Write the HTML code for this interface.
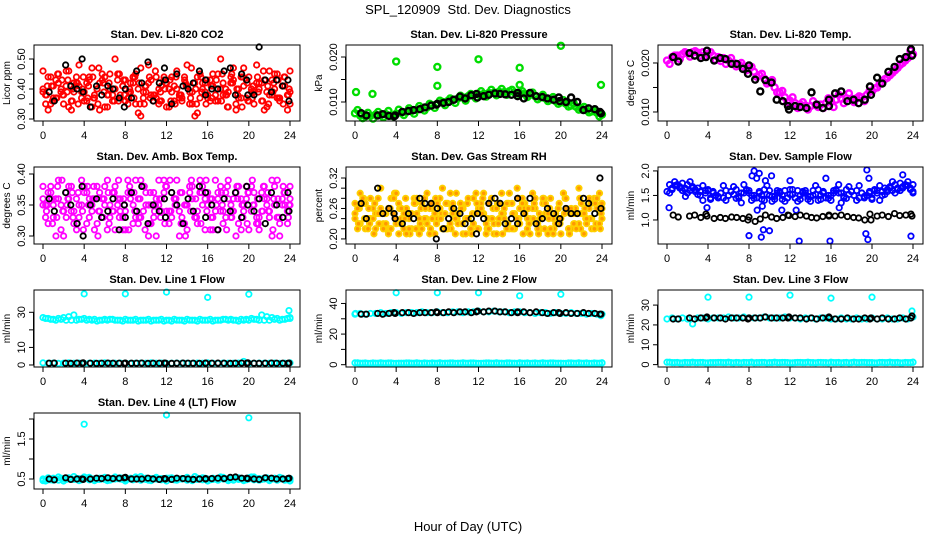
<!DOCTYPE html>
<html><head><meta charset="utf-8"><style>
body{margin:0;background:#fff;}
svg{display:block;font-family:"Liberation Sans",Arial,sans-serif;}
</style></head><body>
<svg id="chart" width="936" height="540" viewBox="0 0 936 540">
<text x="468" y="14" text-anchor="middle" font-size="13">SPL_120909&#160; Std. Dev. Diagnostics</text>
<text x="468" y="531" text-anchor="middle" font-size="13">Hour of Day (UTC)</text>
</svg>
<script>
const blackHours=[0.6,1.1,2.2,2.7,3.3,3.8,3.9,4.6,5.2,5.7,6.3,6.8,7.4,7.9,8.0,8.6,9.1,9.6,10.2,10.7,11.3,11.8,11.9,12.5,13.0,13.6,14.1,14.6,15.2,15.8,15.8,16.4,17.0,17.6,18.2,18.7,19.3,19.8,19.9,20.5,21.0,21.6,22.2,22.7,23.3,23.8,23.9];
const xTicks=[0,4,8,12,16,20,24];

const co2A=[0.40,0.44,0.37,0.42,0.35,0.46,0.39,0.41,0.36,0.44,0.38,0.42,0.34,0.45,0.40,0.37,0.43,0.39,0.35,0.47,0.41,0.38,0.44,0.36,0.42,0.39,0.46,0.37,0.41,0.35,0.44,0.40,0.38,0.45,0.36,0.42,0.39,0.47,0.37,0.41,0.44,0.35,0.40,0.43,0.38,0.45,0.36,0.41,0.39];
const co2B=[0.38,0.35,0.43,0.39,0.41,0.36,0.44,0.37,0.42,0.34,0.40,0.45,0.38,0.36,0.43,0.41,0.35,0.44,0.40,0.37,0.42,0.38,0.35,0.43,0.40,0.36,0.38,0.44,0.35,0.42,0.37,0.39,0.43,0.36,0.40,0.38,0.42,0.35,0.44,0.37,0.40,0.42,0.36,0.39,0.43,0.37,0.41,0.38];
const co2C=[0.46,0.33,0.41,0.45,0.38,0.34,0.42,0.48,0.39,0.43,0.37,0.33,0.44,0.40,0.50,0.38,0.36,0.42,0.45,0.31,0.39,0.43,0.37,0.41,0.34,0.44,0.40,0.36,0.48,0.39,0.32,0.42,0.37,0.41,0.45,0.38,0.34,0.43,0.40,0.47,0.36,0.39,0.42,0.33,0.46,0.40,0.37,0.44,0.35];
const co2Black=[0.39,0.36,0.48,0.41,0.40,0.50,0.39,0.34,0.41,0.38,0.41,0.40,0.37,0.34,0.40,0.37,0.46,0.42,0.49,0.36,0.42,0.47,0.43,0.35,0.45,0.41,0.40,0.42,0.46,0.43,0.38,0.40,0.40,0.46,0.47,0.38,0.45,0.43,0.38,0.38,0.54,0.43,0.39,0.43,0.41,0.43,0.36];

const presA=[0.0075,0.0070,0.0068,0.0069,0.0072,0.0071,0.0073,0.0070,0.0074,0.0076,0.0078,0.0080,0.0083,0.0086,0.0088,0.0093,0.0096,0.0100,0.0102,0.0105,0.0108,0.0110,0.0113,0.0115,0.0117,0.0118,0.0120,0.0121,0.0123,0.0122,0.0124,0.0121,0.0120,0.0118,0.0116,0.0113,0.0110,0.0108,0.0105,0.0102,0.0099,0.0096,0.0092,0.0089,0.0086,0.0082,0.0079,0.0076,0.0072];
const presB=[0.0082,0.0064,0.0076,0.0063,0.0078,0.0066,0.0080,0.0068,0.0083,0.0071,0.0086,0.0074,0.0091,0.0081,0.0096,0.0087,0.0103,0.0093,0.0108,0.0098,0.0114,0.0103,0.0118,0.0108,0.0124,0.0112,0.0127,0.0115,0.0129,0.0116,0.0127,0.0114,0.0124,0.0111,0.0121,0.0106,0.0116,0.0102,0.0111,0.0096,0.0104,0.0090,0.0097,0.0083,0.0089,0.0077,0.0081,0.0068];
const presOutHours=[0.1,1.7,4.0,8.0,8.0,12.0,16.0,16.0,20.0,23.9];
const presOutVals=[0.0122,0.0118,0.0190,0.0178,0.0136,0.0195,0.0176,0.0138,0.0225,0.0138];
const presBlack=[0.0075,0.0070,0.0070,0.0073,0.0069,0.0068,0.0070,0.0078,0.0080,0.0082,0.0084,0.0088,0.0092,0.0094,0.0096,0.0098,0.0100,0.0105,0.0112,0.0108,0.0115,0.0118,0.0110,0.0113,0.0116,0.0119,0.0118,0.0117,0.0116,0.0113,0.0120,0.0108,0.0120,0.0113,0.0111,0.0108,0.0105,0.0110,0.0102,0.0100,0.0110,0.0100,0.0082,0.0086,0.0084,0.0078,0.0075];

const tempA=[0.0205,0.0212,0.0215,0.0218,0.0220,0.0222,0.0221,0.0222,0.0218,0.0215,0.0212,0.0210,0.0205,0.0200,0.0197,0.0193,0.0188,0.0182,0.0175,0.0168,0.0160,0.0150,0.0140,0.0130,0.0123,0.0118,0.0115,0.0113,0.0112,0.0114,0.0115,0.0118,0.0122,0.0125,0.0127,0.0128,0.0127,0.0128,0.0130,0.0135,0.0142,0.0150,0.0160,0.0170,0.0180,0.0190,0.0200,0.0210,0.0218];
const tempB=[0.0198,0.0215,0.0208,0.0222,0.0213,0.0224,0.0215,0.0214,0.0222,0.0206,0.0204,0.0198,0.0210,0.0193,0.0200,0.0185,0.0192,0.0172,0.0178,0.0158,0.0165,0.0140,0.0143,0.0120,0.0130,0.0108,0.0120,0.0105,0.0122,0.0110,0.0108,0.0128,0.0110,0.0135,0.0118,0.0138,0.0120,0.0132,0.0122,0.0142,0.0148,0.0158,0.0167,0.0175,0.0185,0.0196,0.0205,0.0225];
const tempBlack=[0.0212,0.0203,0.0220,0.0215,0.0210,0.0212,0.0225,0.0205,0.0210,0.0208,0.0198,0.0198,0.0188,0.0178,0.0195,0.0166,0.0142,0.0165,0.0160,0.0125,0.0122,0.0112,0.0105,0.0112,0.0110,0.0108,0.0140,0.0115,0.0108,0.0112,0.0125,0.0138,0.0142,0.0122,0.0125,0.0118,0.0125,0.0152,0.0135,0.0170,0.0158,0.0182,0.0192,0.0208,0.0212,0.0228,0.0215];

const ambA=[0.35,0.37,0.33,0.36,0.34,0.38,0.32,0.35,0.37,0.33,0.36,0.34,0.38,0.35,0.31,0.36,0.34,0.37,0.33,0.39,0.35,0.32,0.36,0.34,0.38,0.33,0.35,0.37,0.31,0.36,0.34,0.38,0.35,0.33,0.37,0.32,0.36,0.34,0.38,0.35,0.31,0.37,0.33,0.36,0.34,0.38,0.32,0.35,0.36];
const ambB=[0.33,0.38,0.36,0.31,0.37,0.34,0.36,0.39,0.32,0.35,0.38,0.33,0.31,0.37,0.35,0.33,0.39,0.32,0.36,0.34,0.30,0.37,0.35,0.39,0.32,0.36,0.34,0.32,0.38,0.33,0.37,0.31,0.36,0.39,0.34,0.37,0.33,0.30,0.36,0.38,0.34,0.32,0.37,0.35,0.39,0.33,0.36,0.34];
const ambC=[0.38,0.32,0.35,0.39,0.30,0.36,0.34,0.33,0.38,0.36,0.31,0.37,0.35,0.33,0.38,0.34,0.31,0.36,0.39,0.33,0.37,0.35,0.30,0.36,0.34,0.37,0.39,0.33,0.35,0.38,0.32,0.35,0.37,0.31,0.36,0.34,0.39,0.36,0.32,0.34,0.37,0.35,0.31,0.38,0.33,0.35,0.30,0.37,0.35];
const ambBlack=[0.36,0.34,0.37,0.35,0.32,0.38,0.30,0.35,0.36,0.33,0.34,0.36,0.31,0.35,0.33,0.37,0.34,0.38,0.32,0.35,0.34,0.36,0.33,0.37,0.35,0.32,0.36,0.34,0.38,0.33,0.37,0.35,0.31,0.36,0.34,0.37,0.33,0.38,0.35,0.34,0.36,0.32,0.37,0.35,0.33,0.37,0.34];

const rhA=[0.25,0.23,0.27,0.24,0.22,0.26,0.25,0.28,0.23,0.24,0.26,0.22,0.25,0.27,0.23,0.26,0.24,0.22,0.27,0.25,0.23,0.26,0.24,0.28,0.22,0.25,0.27,0.23,0.24,0.26,0.22,0.25,0.23,0.27,0.24,0.26,0.22,0.25,0.28,0.23,0.24,0.26,0.22,0.25,0.27,0.23,0.24,0.26,0.24];
const rhB=[0.22,0.27,0.24,0.26,0.28,0.23,0.21,0.25,0.27,0.22,0.24,0.28,0.21,0.24,0.26,0.21,0.28,0.25,0.23,0.21,0.27,0.24,0.22,0.25,0.27,0.21,0.24,0.26,0.29,0.22,0.27,0.24,0.28,0.22,0.26,0.23,0.27,0.21,0.24,0.26,0.29,0.22,0.25,0.23,0.21,0.26,0.28,0.23];
const rhC=[0.27,0.29,0.22,0.28,0.25,0.30,0.23,0.22,0.29,0.26,0.21,0.25,0.28,0.22,0.29,0.24,0.27,0.30,0.22,0.27,0.25,0.21,0.28,0.23,0.26,0.29,0.22,0.21,0.27,0.24,0.29,0.22,0.26,0.25,0.21,0.28,0.24,0.27,0.22,0.25,0.21,0.28,0.26,0.22,0.25,0.24,0.22,0.28,0.26];
const rhBlack=[0.27,0.24,0.30,0.25,0.26,0.25,0.24,0.23,0.25,0.24,0.28,0.27,0.27,0.20,0.26,0.22,0.24,0.26,0.25,0.23,0.24,0.21,0.25,0.24,0.27,0.28,0.27,0.23,0.24,0.23,0.28,0.25,0.28,0.23,0.24,0.26,0.25,0.23,0.24,0.26,0.25,0.25,0.28,0.27,0.25,0.32,0.26];

const flowA=[1.58,1.62,1.70,1.75,1.72,1.68,1.65,1.70,1.60,1.55,1.48,1.45,1.50,1.52,1.48,1.55,1.60,1.50,1.55,1.62,1.50,1.48,1.55,1.60,1.52,1.45,1.50,1.55,1.48,1.52,1.50,1.45,1.50,1.60,1.55,1.62,1.58,1.60,1.55,1.50,1.45,1.55,1.58,1.62,1.60,1.65,1.68,1.70,1.72];
const flowB=[1.55,1.78,1.65,1.62,1.78,1.58,1.50,1.60,1.42,1.50,1.55,1.40,1.58,1.44,1.35,1.62,1.40,1.85,1.42,1.70,1.38,1.60,1.42,1.45,1.62,1.38,1.58,1.42,1.60,1.40,1.58,1.44,1.55,1.72,1.45,1.68,1.50,1.70,1.45,1.58,1.62,1.40,1.52,1.65,1.55,1.60,1.72,1.65];
const flowOutHours=[0.2,1.8,3.9,8.0,8.3,8.5,9.0,9.2,9.4,9.6,10.0,10.2,8.8,9.3,11.2,12.0,12.9,15.9,16.8,19.4,19.5,19.7,19.6,23.8,23.0,12.6];
const flowOutVals=[1.25,1.48,1.25,0.68,1.90,2.00,1.95,0.65,0.80,1.80,0.78,1.90,1.20,1.28,1.20,1.80,0.57,0.57,1.25,0.72,2.02,1.85,0.60,0.67,1.92,1.20];
const flowBlack=[1.10,1.06,1.08,1.10,1.05,1.12,1.08,1.03,1.05,1.03,1.06,1.05,1.03,1.00,1.06,0.97,1.02,1.10,1.06,1.03,1.05,1.10,1.09,1.07,1.10,1.08,1.05,1.04,1.07,1.10,1.08,1.08,1.10,1.07,1.05,1.04,1.00,1.12,1.00,1.08,1.10,1.07,1.13,1.09,1.10,1.12,1.08];

const line1Cyan=[27,26.5,26,26.5,27,27.5,28.5,26,26.5,26,26,25.5,26,26,25.5,25.5,26,25.5,26,25.5,25.5,25,25.5,26,25.5,25,25.5,25.5,26,25.5,25,25.5,25.5,25,25.5,26,25.5,25.5,25,25.5,25.5,26,25.5,25.5,25.5,26,25.5,26,26.5];
const line1CyanLow=[1.2,1.0,1.1,0.9,1.0,1.2,1.0,1.1,0.9,1.0,1.1,1.0,1.2,0.9,1.0,1.1,1.0,0.9,1.0,1.1,1.0,1.2,1.0,1.1,0.9,1.0,1.1,1.0,1.0,0.9,1.1,1.0,1.2,1.0,0.9,1.1,1.0,1.0,1.1,2.0,1.0,0.9,1.1,1.0,1.0,1.1,0.9,1.0,1.2];
const line1OutHours=[4,8,12,16,20,23.9];
const line1OutVals=[40.5,40.5,41.5,38.5,40.3,31];
const line1Black=[1.0,1.1,1.0,0.9,1.1,1.0,1.2,1.0,0.9,1.0,1.1,1.0,1.0,0.9,1.1,1.0,1.0,1.1,0.9,1.0,1.0,1.1,1.0,0.9,1.0,1.1,1.0,1.0,0.9,1.1,1.0,1.0,1.1,1.0,0.9,1.0,1.1,1.0,1.2,1.0,0.9,1.0,1.1,1.0,1.0,0.9,1.1];

const line2Cyan=[33,33.5,33,33.5,33.5,34,33.5,34,34,33.5,34,34,34,34.5,34,34,34.5,34,34,34.5,34.5,34,34.5,34.5,35,34.5,34.5,35,34.5,34.5,34,34.5,34.5,34,34,33.5,34,34,33.5,34,33.5,33.5,34,33.5,33.5,33,33.5,33,33];
const line2CyanLow=[1.2,1.0,1.1,0.9,1.0,1.2,1.0,1.1,0.9,1.0,1.1,1.0,1.2,0.9,1.0,1.1,1.0,0.9,1.0,1.1,1.0,1.2,1.0,1.1,0.9,1.0,1.1,1.0,1.0,0.9,1.1,1.0,1.2,1.0,0.9,1.1,1.0,1.0,1.1,1.0,1.0,0.9,1.1,1.0,1.0,1.1,0.9,1.0,1.2];
const line2OutHours=[0.05,4,8,12,16,20,23.9];
const line2OutVals=[33.5,47,47,47,45,46,32];
const line2Black=[33,33,33.5,33,33.5,34,33.5,34,34,33.5,34,34,34,34.5,34,34,34.5,34,34.5,34.5,34,34.5,35,34.5,35,35,34.5,34.5,34,34.5,34,34.5,34,34.5,34,33.5,34,34,33.5,34,33.5,33.5,34,33.5,33.5,33,33];

const line3Cyan=[23,23.5,23,23.5,23,20.5,23.5,23.5,23,23.5,23.5,23.5,24,23.5,23.5,24,23.5,23.5,23.5,24,23.5,23.5,23.5,24,23.5,23.5,23,23.5,23.5,23,23.5,23.5,23,23,23.5,23,23,23.5,23,23,23.5,23,23,23.5,23,23,23.5,23,24];
const line3CyanLow=[1.2,1.0,1.1,0.9,1.0,1.2,1.0,1.1,0.9,1.0,1.1,1.0,1.2,0.9,1.0,1.1,1.0,0.9,1.0,1.1,1.0,1.2,1.0,1.1,0.9,1.0,1.1,1.0,1.0,0.9,1.1,1.0,1.2,1.0,0.9,1.1,1.0,1.0,1.1,1.0,1.0,0.9,1.1,1.0,1.0,1.1,0.9,1.0,1.2];
const line3OutHours=[4,8,12,16,20,23.9];
const line3OutVals=[34,34,35,33.5,34,27];
const line3Black=[23,23,23.5,23,23.5,23.5,24,23.5,23.5,23,23.5,23.5,23.5,23,23.5,23.5,23.5,24,23.5,23.5,23.5,23.5,24,23.5,23.5,23,23.5,23,23.5,23.5,24,23,23,23.5,23,23,23.5,23,23.5,23,23.5,23,23,23.5,23,23.5,24.5];

const line4Cyan=[0.50,0.48,0.52,0.47,0.50,0.53,0.49,0.51,0.55,0.48,0.50,0.52,0.49,0.51,0.55,0.50,0.48,0.52,0.50,0.56,0.49,0.51,0.50,0.48,0.52,0.50,0.49,0.51,0.47,0.50,0.52,0.48,0.50,0.49,0.51,0.50,0.46,0.52,0.49,0.50,0.53,0.48,0.51,0.50,0.49,0.52,0.50,0.48,0.45];
const line4CyanB=[0.46,0.53,0.47,0.55,0.45,0.51,0.56,0.46,0.50,0.54,0.46,0.49,0.54,0.47,0.50,0.53,0.45,0.50,0.55,0.47,0.52,0.46,0.54,0.51,0.45,0.53,0.47,0.50,0.54,0.46,0.49,0.53,0.45,0.52,0.47,0.54,0.50,0.47,0.53,0.46,0.50,0.55,0.47,0.52,0.46,0.50,0.54,0.47,0.51];
const line4OutHours=[4,12,20];
const line4OutVals=[1.87,2.10,2.03];
const line4Black=[0.50,0.48,0.53,0.49,0.50,0.50,0.49,0.50,0.52,0.51,0.53,0.51,0.52,0.53,0.54,0.50,0.50,0.50,0.52,0.50,0.49,0.51,0.50,0.49,0.52,0.51,0.50,0.49,0.50,0.51,0.50,0.51,0.52,0.51,0.54,0.55,0.52,0.52,0.51,0.50,0.49,0.53,0.52,0.50,0.50,0.51,0.52];

const NS="http://www.w3.org/2000/svg";
const svg=document.getElementById('chart');
function el(tag,attrs,parent){const e=document.createElementNS(NS,tag);for(const k in attrs)e.setAttribute(k,attrs[k]);(parent||svg).appendChild(e);return e;}

// dense: also plot each noisy series a second time in reversed hour order (offset) to build the cloud
const panels=[
 {name:'co2',title:'Stan. Dev. Li-820 CO2',ylab:'Licor ppm',box:[34,300,45,121],dom:[0.2933,0.5467],ticks:[0.30,0.35,0.40,0.45,0.50],labels:[0.30,0.40,0.50],dec:2,dense:true,
  series:[{vals:co2A,c:'#ff0000'},{vals:co2B,c:'#ff0000'},{vals:co2C,c:'#ff0000'}],black:co2Black},
 {name:'pressure',title:'Stan. Dev. Li-820 Pressure',ylab:'kPa',box:[346,612,45,121],dom:[0.00578,0.02267],ticks:[0.010,0.015,0.020],labels:[0.010,0.020],dec:3,r:3,sw:2.4,
  series:[{vals:presA,c:'#00dd00'},{vals:presB,c:'#00dd00'},{h:presOutHours,vals:presOutVals,c:'#00dd00'}],black:presBlack},
 {name:'temp',title:'Stan. Dev. Li-820 Temp.',ylab:'degrees C',box:[658,923,45,121],dom:[0.00816,0.02367],ticks:[0.010,0.015,0.020],labels:[0.010,0.020],dec:3,r:3,sw:2.4,
  series:[{vals:tempA,c:'#ff00ff'},{vals:tempB,c:'#ff00ff'}],black:tempBlack},
 {name:'amb-box-temp',title:'Stan. Dev. Amb. Box Temp.',ylab:'degrees C',box:[34,300,167,244],dom:[0.2871,0.4113],ticks:[0.30,0.35,0.40],labels:[0.30,0.35,0.40],dec:2,dense:true,
  series:[{vals:ambA,c:'#ff00ff'},{vals:ambB,c:'#ff00ff'},{vals:ambC,c:'#ff00ff'}],black:ambBlack},
 {name:'gas-stream-rh',title:'Stan. Dev. Gas Stream RH',ylab:'percent',box:[346,612,167,244],dom:[0.190,0.3417],ticks:[0.20,0.22,0.24,0.26,0.28,0.30,0.32],labels:[0.20,0.26,0.32],dec:2,dense:true,
  series:[{vals:rhA,c:'#ffd000',f:'#ff9900'},{vals:rhB,c:'#ffd000',f:'#ff9900'},{vals:rhC,c:'#ffd000',f:'#ff9900'}],black:rhBlack},
 {name:'sample-flow',title:'Stan. Dev. Sample Flow',ylab:'ml/min',box:[658,923,167,244],dom:[0.51,2.08],ticks:[1.0,1.5,2.0],labels:[1.0,1.5,2.0],dec:1,
  series:[{vals:flowA,c:'#0000ff'},{vals:flowB,c:'#0000ff'},{vals:flowA,c:'#0000ff',rev:true},{vals:flowB,c:'#0000ff',rev:true},{h:flowOutHours,vals:flowOutVals,c:'#0000ff'}],black:flowBlack},
 {name:'line1-flow',title:'Stan. Dev. Line 1 Flow',ylab:'ml/min',box:[34,300,290,367],dom:[-1.15,42.7],ticks:[0,10,20,30],labels:[0,10,30],dec:0,
  series:[{vals:line1Cyan,c:'#00ffff'},{vals:line1Cyan,c:'#00ffff',rev:true},{vals:line1CyanLow,c:'#00ffff'},{h:line1OutHours,vals:line1OutVals,c:'#00ffff'}],black:line1Black},
 {name:'line2-flow',title:'Stan. Dev. Line 2 Flow',ylab:'ml/min',box:[346,612,290,367],dom:[-1.5,48.8],ticks:[0,10,20,30,40],labels:[0,20,40],dec:0,
  series:[{vals:line2Cyan,c:'#00ffff'},{vals:line2CyanLow,c:'#00ffff'},{vals:line2CyanLow,c:'#00ffff',rev:true},{h:line2OutHours,vals:line2OutVals,c:'#00ffff'}],black:line2Black},
 {name:'line3-flow',title:'Stan. Dev. Line 3 Flow',ylab:'ml/min',box:[658,923,290,367],dom:[-1.2,37.6],ticks:[0,10,20,30],labels:[0,10,20,30],dec:0,
  series:[{vals:line3Cyan,c:'#00ffff'},{vals:line3CyanLow,c:'#00ffff'},{vals:line3CyanLow,c:'#00ffff',rev:true},{h:line3OutHours,vals:line3OutVals,c:'#00ffff'}],black:line3Black},
 {name:'line4-flow',title:'Stan. Dev. Line 4 (LT) Flow',ylab:'ml/min',box:[34,300,413,489],dom:[0.25,2.15],ticks:[0.5,1.0,1.5,2.0],labels:[0.5,1.5],dec:1,
  series:[{vals:line4Cyan,c:'#00ffff'},{vals:line4CyanB,c:'#00ffff'},{vals:line4Cyan,c:'#00ffff',rev:true},{h:line4OutHours,vals:line4OutVals,c:'#00ffff'}],black:line4Black}
];

panels.forEach(p=>{
  const [x0,x1,y0,y1]=p.box;
  const g=el('g',{});
  
  
  const xs=h=>x0+9+h*(x1-x0-19)/24;
  const ys=v=>y1-(v-p.dom[0])/(p.dom[1]-p.dom[0])*(y1-y0);
  const t=el('text',{x:(x0+x1)/2,y:y0-7,'text-anchor':'middle','font-size':'11','font-weight':'bold'},g);
  t.textContent=p.title;
  
  
  const xa=el('g',{stroke:'#000','stroke-width':1},g);
  
  
  xTicks.forEach(h=>{
    el('line',{x1:xs(h),x2:xs(h),y1:y1,y2:y1+5},xa);
    const l=el('text',{x:xs(h),y:y1+18,'text-anchor':'middle','font-size':'11',stroke:'none',fill:'#000'},xa);
    l.textContent=h;
  });
  const ya=el('g',{stroke:'#000','stroke-width':1},g);
  
  
  el('line',{x1:x0-0.5,x2:x0-0.5,y1:ys(p.ticks[0]),y2:ys(p.ticks[p.ticks.length-1])},ya);
  p.ticks.forEach(v=>{el('line',{x1:x0-5,x2:x0,y1:ys(v),y2:ys(v)},ya);});
  p.labels.forEach(v=>{
    const yy=ys(v);
    const l=el('text',{x:x0-9,y:yy,'text-anchor':'middle','font-size':'11',stroke:'none',fill:'#000',transform:`rotate(-90 ${x0-9} ${yy})`},ya);
    l.textContent=v.toFixed(p.dec);
  });
  const yl=el('text',{x:x0-24,y:(y0+y1)/2,'text-anchor':'middle','font-size':'10',transform:`rotate(-90 ${x0-24} ${(y0+y1)/2})`},g);
  yl.textContent=p.ylab;
  
  
  const r=p.r||2.7, sw=p.sw||1.8;
  const pts=el('g',{fill:'none','stroke-width':sw},g);
  
  
  const drawSeries=(s,si,rev,off)=>{
    const n=s.vals.length;
    s.vals.forEach((v,i)=>{
      let h;
      if(s.h) h=s.h[i];
      else {
        const step=24/48;
        const base=(n===48)? (i+0.5)*step : i*step;
        h=rev? 24-base+off : base+off;
        h=Math.max(0,Math.min(24,h));
      }
      const c=el('circle',{cx:xs(h),cy:ys(v),r:r,stroke:s.c,fill:s.f||'none'},pts);
      
      
    });
  };
  p.series.forEach((s,si)=>{
    drawSeries(s,si,!!s.rev,s.rev?0.25:0);
    if(p.dense && !s.h) drawSeries(s,si,true,0.17*(si+1)-0.25);
  });
  p.black.forEach((v,i)=>{
    const c=el('circle',{cx:xs(blackHours[i]),cy:ys(v),r:r,stroke:'#000',fill:'none'},pts);
    
    
  });
  const b=el('rect',{x:x0,y:y0,width:x1-x0,height:y1-y0,fill:'none',stroke:'#000','stroke-width':1},g);
  
  
});
</script>
</body></html>
